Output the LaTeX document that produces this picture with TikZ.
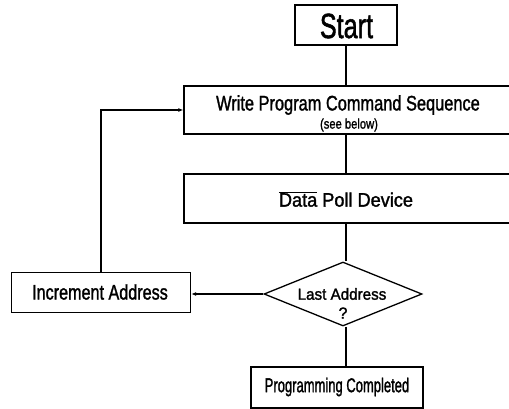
\documentclass[tikz,border=0pt]{standalone}
\usepackage{fontspec}
\setmainfont{Liberation Sans}
\newfontfamily\hv[FakeBold=1.6]{Liberation Sans}
\usetikzlibrary{shapes.geometric,arrows.meta}
\begin{document}
\begin{tikzpicture}[x=1pt,y=-1pt,
  box/.style={draw, line width=1.3pt, rectangle, inner sep=0pt},
  conn/.style={line width=1.3pt},
  arr/.style={line width=1.3pt, -{Latex[length=5pt,width=4pt]}},
  txt/.style={inner sep=0pt, align=center, font=\hv}]
\useasboundingbox (0,0) rectangle (509,409);
% boxes
\node[box, minimum width=102pt, minimum height=40pt] (start) at (346,25) {};
\node[txt] (starttxt) at (346.5,26) {\fontsize{35}{37}\selectfont\scalebox{0.72}[1]{Start}};
\node[box, minimum width=331pt, minimum height=48pt] (write) at (349.5,110) {};
\node[txt] (writetxt) at (348,105) {\fontsize{21}{23}\selectfont\scalebox{0.78}[1]{Write Program Command Sequence}};
\node[txt] (seetxt) at (349,125) {\fontsize{14}{16}\selectfont\scalebox{0.8}[1]{(see below)}};
\node[box, minimum width=331pt, minimum height=49pt] (poll) at (349.5,198.5) {};
\node[txt] (polltxt) at (346,199) {\fontsize{19.5}{22}\selectfont\scalebox{0.93}[1]{$\overline{\hbox{Data}}$ Poll Device}};
\node[draw, line width=1.3pt, diamond, minimum width=158pt, minimum height=64pt, inner sep=0pt, aspect=2.47] (dec) at (343,294) {};
\node[txt] (dectxt) at (342,294) {\fontsize{16}{18}\selectfont\scalebox{0.95}[1]{Last Address}};
\node[txt] (qtxt) at (343,313) {\fontsize{16}{18}\selectfont ?};
\node[box, minimum width=179pt, minimum height=40pt] (inc) at (101,292.5) {};
\node[txt] (inctxt) at (100,292) {\fontsize{21}{23}\selectfont\scalebox{0.77}[1]{Increment Address}};
\node[box, minimum width=172pt, minimum height=41pt] (prog) at (337,387.5) {};
\node[txt] (progtxt) at (337,387) {\fontsize{20}{22}\selectfont\scalebox{0.65}[1]{Programming Completed}};
% connectors
\draw[conn] (start.south) -- (start.south |- write.north);
\draw[conn] (start.south |- write.south) -- (start.south |- poll.north);
\draw[conn] (start.south |- poll.south) -- (start.south |- dec.north);
\draw[conn] (start.south |- dec.south) -- (start.south |- prog.north);
\draw[arr] (dec.west) -- (dec.west -| inc.east);
\draw[arr] (inc.north) |- (write.west);
\end{tikzpicture}
\end{document}
